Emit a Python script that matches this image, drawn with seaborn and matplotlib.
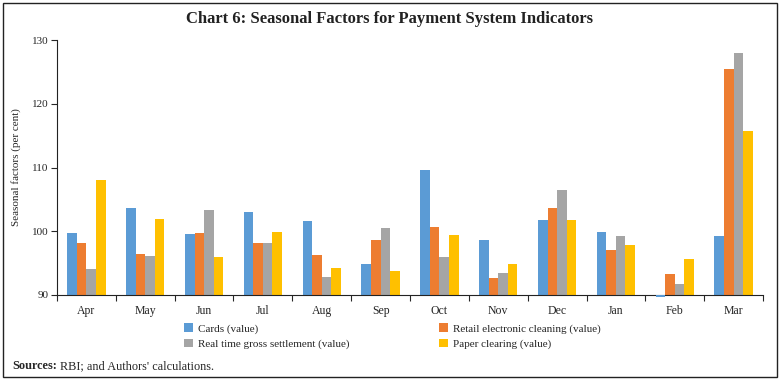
import matplotlib
matplotlib.use("Agg")
import matplotlib.pyplot as plt
import seaborn as sns
import pandas as pd
from matplotlib.patches import Rectangle

months = ["Apr", "May", "Jun", "Jul", "Aug", "Sep", "Oct", "Nov", "Dec", "Jan", "Feb", "Mar"]
series_names = ["Cards (value)", "Retail electronic cleaning (value)",
                "Real time gross settlement (value)", "Paper clearing (value)"]
cards = [99.8, 103.7, 99.5, 103.0, 101.6, 94.9, 109.6, 98.7, 101.8, 99.9, 89.7, 99.3]
retail = [98.2, 96.5, 99.8, 98.1, 96.3, 98.6, 100.7, 92.6, 103.6, 97.1, 93.3, 125.4]
rtgs = [94.1, 96.1, 103.4, 98.2, 92.8, 100.5, 96.0, 93.5, 106.5, 99.2, 91.7, 127.9]
paper = [108.1, 101.9, 95.9, 99.9, 94.2, 93.7, 99.4, 94.9, 101.8, 97.9, 95.7, 115.8]
colors = ["#5B9BD5", "#ED7D31", "#A5A5A5", "#FFC000"]
base = 90
yticks = [90, 100, 110, 120, 130]

rows = []
for name, vals in zip(series_names, [cards, retail, rtgs, paper]):
    for m, v in zip(months, vals):
        rows.append({"month": m, "series": name, "value": v})
df = pd.DataFrame(rows)

sns.set_style("ticks")
plt.rcParams["font.family"] = ["Liberation Serif", "DejaVu Serif"]

fig = plt.figure(figsize=(7.79, 3.80), dpi=100)
ax = fig.add_axes([57 / 779, 1 - 295 / 380, (763 - 57) / 779, (295 - 40) / 380])

sns.barplot(data=df, x="month", y="value", hue="series", order=months,
            hue_order=series_names, palette=colors, saturation=1, width=0.65,
            errorbar=None, ax=ax, linewidth=0)

handles, labels = ax.get_legend_handles_labels()
if ax.legend_ is not None:
    ax.legend_.remove()

# bars rise from the axis baseline at 90
for p in ax.patches:
    h = p.get_height()
    p.set_y(base)
    p.set_height(h - base)
    p.set_clip_on(False)
    if h < base:
        p.set_zorder(5)

ax.set_ylim(base, 130)
ax.set_yticks(yticks)
ax.set_xlim(-0.5, len(months) - 0.5)
ax.set_xlabel("")
ax.set_ylabel("Seasonal factors (per cent)", fontsize=8, labelpad=8)
ax.tick_params(axis="y", labelsize=8, length=4, width=0.8, pad=2)
ax.tick_params(axis="x", which="major", length=0, labelsize=8.5, pad=7)
ax.set_xticks([i - 0.5 for i in range(len(months) + 1)], minor=True)
ax.tick_params(axis="x", which="minor", length=4, width=0.8)
for s in ["top", "right"]:
    ax.spines[s].set_visible(False)
for s in ["left", "bottom"]:
    ax.spines[s].set_linewidth(0.8)
    ax.spines[s].set_color("#222222")

fig.text(0.5, 1 - 19 / 380, "Chart 6: Seasonal Factors for Payment System Indicators",
         ha="center", va="center", fontsize=12, fontweight="bold", color="#222222")

order = [0, 2, 1, 3]
leg = fig.legend([handles[i] for i in order], [labels[i] for i in order], ncol=2,
                 loc="center left", bbox_to_anchor=(184 / 779, 1 - 336 / 380),
                 frameon=False, fontsize=8, handlelength=0.8, handleheight=0.8,
                 handletextpad=0.5, columnspacing=8.0, labelspacing=0.45,
                 borderpad=0, borderaxespad=0)

fig.canvas.draw()
r = fig.canvas.get_renderer()
t1 = fig.text(12 / 779, 1 - 369 / 380, "Sources:", fontsize=8.8, fontweight="bold",
              va="baseline", ha="left")
bb = t1.get_window_extent(renderer=r)
fig.text((bb.x1 + 3) / fig.bbox.width, 1 - 369 / 380, "RBI; and Authors' calculations.",
         fontsize=8.8, va="baseline", ha="left")

fig.patches.append(Rectangle((3 / 779, 3 / 380), 774 / 779, 374 / 380,
                             transform=fig.transFigure, fill=False,
                             edgecolor="#222222", linewidth=1.0))

fig.savefig("out.png", dpi=100)
